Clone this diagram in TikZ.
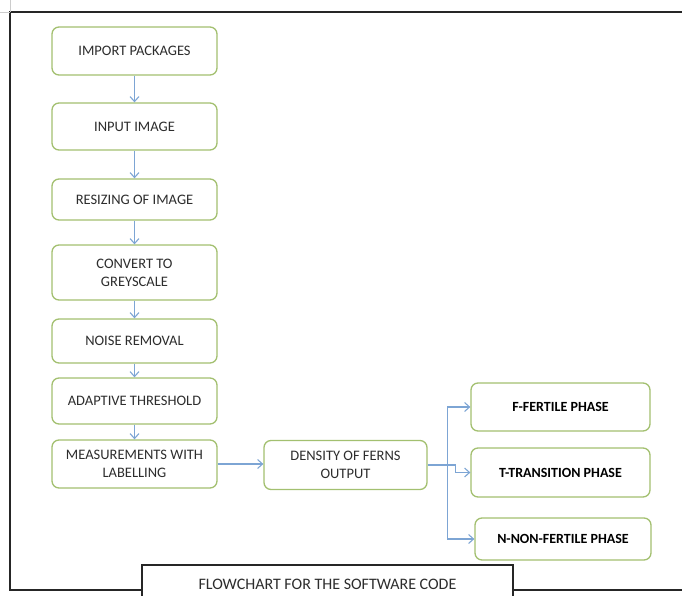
\documentclass[tikz,border=0pt]{standalone}
\usepackage{fontspec}
\setmainfont{Carlito}
\usetikzlibrary{arrows.meta}

\definecolor{boxgreen}{RGB}{163,192,112}
\definecolor{flowblue}{RGB}{125,165,212}
\definecolor{inkgrey}{RGB}{45,45,45}

\tikzset{
	stepbox/.style={draw=boxgreen, line width=1.3pt, fill=white, rounded corners=7pt,
		text=inkgrey, align=center, font=\fontsize{14.5}{18}\selectfont, inner sep=2pt},
	phasebox/.style={stepbox, font=\fontsize{14}{17}\selectfont\bfseries, text=black},
	flow/.style={draw=flowblue, line width=1.1pt, -{Straight Barb[length=5pt,width=9pt]}},
	frame/.style={draw=black!85, line width=1.3pt}
}

\begin{document}
\begin{tikzpicture}[x=1pt, y=-1pt]

	\useasboundingbox (0,0) rectangle (682,596);
	\clip (0,0) rectangle (682,596);

	% left column
	\node[stepbox, minimum width=165, minimum height=48] (imp) at (134.5,51) {IMPORT PACKAGES};
	\node[stepbox, minimum width=165, minimum height=47] (inp) at (134.5,126.5) {INPUT IMAGE};
	\node[stepbox, minimum width=165, minimum height=41] (res) at (134.5,199.5) {RESIZING OF IMAGE};
	\node[stepbox, minimum width=165, minimum height=55] (grey) at (134.5,272.5) {CONVERT TO\\GREYSCALE};
	\node[stepbox, minimum width=165, minimum height=44] (noise) at (134.5,341) {NOISE REMOVAL};
	\node[stepbox, minimum width=165, minimum height=46] (adapt) at (134.5,401) {ADAPTIVE THRESHOLD};
	\node[stepbox, minimum width=165, minimum height=48] (meas) at (134.5,464) {MEASUREMENTS WITH\\LABELLING};

	% output and phases
	\node[stepbox, minimum width=163, minimum height=49] (dens) at (345.5,465) {DENSITY OF FERNS\\OUTPUT};
	\node[phasebox, minimum width=179, minimum height=48] (fert) at (560.5,407) {F-FERTILE PHASE};
	\node[phasebox, minimum width=179, minimum height=49] (trans) at (560.5,472.5) {T-TRANSITION PHASE};
	\node[phasebox, minimum width=176, minimum height=42] (nonf) at (563,539) {N-NON-FERTILE PHASE};

	\draw[flow] (imp) -- (inp);
	\draw[flow] (inp) -- (res);
	\draw[flow] (res) -- (grey);
	\draw[flow] (grey) -- (noise);
	\draw[flow] (noise) -- (adapt);
	\draw[flow] (adapt) -- (meas);
	\draw[flow] (meas.east) -- (meas.east -| dens.west);

	\coordinate (split) at ([xshift=20]dens.east);
	\draw[flow] (dens.east) -- (split) |- (fert.west);
	\draw[flow] (split) -- ++(8,0) |- (trans.west);
	\draw[flow] (split) |- (nonf.west);

	% page frame and caption
	\coordinate (frameTL) at (10,12);
	\coordinate (frameTR) at (682,12);
	\coordinate (frameBL) at (10,590);
	\coordinate (frameBR) at (682,590);
	\node[draw=black!85, line width=1.1pt, fill=white, minimum width=371, minimum height=38,
		font=\fontsize{16}{19}\selectfont, text=inkgrey, text depth=0pt] (title) at (327.5,584) {FLOWCHART FOR THE SOFTWARE CODE};
	\draw[frame] (frameTR) -- (frameTL) -- (frameBL) -- (title.west |- frameBL);
	\draw[frame] (title.east |- frameBR) -- (frameBR);
	\draw[gray!40, line width=0.6pt] (frameTL) -- ++(0,-12);
	\draw[gray!40, line width=0.6pt] (frameTL) -- ++(-10,0);

\end{tikzpicture}
\end{document}
